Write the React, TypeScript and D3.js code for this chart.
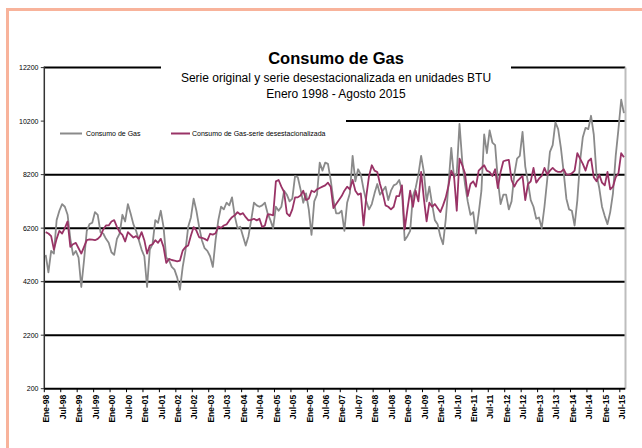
import React from 'react';
import * as d3 from 'd3';

// Consumo de Gas, serie original (BTU), Ene-1998 .. Ago-2015
const consumo = [
  5200, 4550, 5350, 5250, 6500, 6850, 7100, 7000, 6700, 5800, 5200, 5350,
  5100, 4000, 5000, 6100, 6350, 6400, 6800, 6700, 6050, 6000, 5800, 5650,
  5300, 5200, 5800, 6000, 6700, 6450, 7100, 6750, 6350, 6100, 5750, 5400,
  5150, 4000, 5400, 5600, 6500, 6400, 6850, 6250, 5100, 5000, 4750, 4650,
  4350, 3900, 4750, 5350, 6250, 6600, 7300, 6850, 6250, 5750, 5450, 5350,
  5150, 4750, 5750, 6500, 7000, 6900, 7150, 7050, 7350, 6650, 6200, 6250,
  5900, 5550, 5900, 6500, 7150, 7050, 7000, 7050, 7150, 6750, 6500, 6200,
  7000, 6850, 7000, 7600, 7450, 7200, 7300, 8150, 8100, 7650, 7150, 7500,
  6900, 5950, 7200, 7450, 8650, 8350, 8650, 8600, 8000, 7250, 6750, 6750,
  6850, 6100, 7150, 7500, 8900, 7950, 8400, 8200, 7650, 7200, 6900, 7100,
  7500, 7850, 7450, 7600, 7750, 7250, 7600, 7800, 7850, 8000, 7600, 5750,
  5900, 6100, 7400, 7700, 8200, 8900, 8300, 7200, 7750, 7100, 6500, 6350,
  5900, 5600, 6550, 7850, 9200, 8100, 8250, 10100, 8700, 7850, 7200, 6700,
  6800, 6000, 6750, 7600, 9700, 9000, 9850, 9400, 9300, 8000, 7100, 7450,
  7450, 6900, 7200, 8200, 8800, 8900, 9800, 8500, 7900, 7250, 7000, 6550,
  6600, 6200, 7000, 8000, 9050, 9300, 10150, 9900, 9200, 8300, 7300, 6900,
  6850, 6300, 7250, 8700, 9600, 9950, 9900, 10400, 9700, 8200, 7700, 7000,
  6650, 6350, 6800, 7500, 8900, 9900, 11000, 10500,
];

// Consumo de Gas - serie desestacionalizada
const desestacionalizada = [
  6050, 6000, 5900, 5400, 5800, 6100, 6000, 6200, 6450, 5500, 5600, 5650,
  5450, 5250, 5500, 5750, 5780, 5770, 5750, 5800, 5900, 6150, 6300, 6300,
  6450, 6500, 6250, 6050, 5950, 5700, 6050, 5950, 5850, 5900, 5800, 6050,
  5750, 5250, 5550, 5600, 5750, 5650, 5800, 5500, 4900, 5050, 5010, 4990,
  4960, 4990, 5360, 5490, 5550, 5925, 6240, 6110, 5860, 5840, 5800, 5740,
  5990, 5960, 6010, 6260, 6210, 6300, 6340, 6490, 6610, 6680, 6800, 6710,
  6760, 6610, 6490, 6510, 6550, 6490, 6550, 6240, 6300, 6710, 6710, 6680,
  7950, 8000, 7750, 7550, 6750, 6650, 6900, 7350, 7350, 7420, 7600, 7250,
  7300, 7600, 7550, 7650, 7700, 7750, 7800, 7900, 7750, 6950, 7100, 7250,
  7400, 7600, 7750, 7650, 8000, 7600, 7450, 7500, 6300, 7400, 8150, 8550,
  8350, 8300, 7850, 7500, 7050, 7000, 6900, 7000, 7400, 7400, 7800, 6150,
  6900, 7600, 7000, 7600, 7200, 8300, 7300, 6450, 7150, 7000, 7100, 6950,
  6800, 7050, 7350, 7800, 8350, 8150, 6850, 8800, 8550, 8250, 7400, 7850,
  7950, 7750, 8350, 8450, 8550, 8350, 8300, 8150, 8400, 7700, 8300, 8700,
  8730, 8750, 8000, 7750, 7950, 8050, 8150, 7250, 7850, 7950, 8450, 7900,
  8050, 8150, 8450, 8200, 8350, 8450, 8350, 8300, 8300, 8400, 8200, 8200,
  8250, 8350, 9000, 8800, 8600, 8350, 8700, 8800, 8100, 7950, 8200, 7900,
  7800, 8300, 7650, 7750, 8100, 8250, 9000, 8850,
];

const tickLabels = [
  'Ene-98', 'Jul-98', 'Ene-99', 'Jul-99', 'Ene-00', 'Jul-00', 'Ene-01', 'Jul-01',
  'Ene-02', 'Jul-02', 'Ene-03', 'Jul-03', 'Ene-04', 'Jul-04', 'Ene-05', 'Jul-05',
  'Ene-06', 'Jul-06', 'Ene-07', 'Jul-07', 'Ene-08', 'Jul-08', 'Ene-09', 'Jul-09',
  'Ene-10', 'Jul-10', 'Ene-11', 'Jul-11', 'Ene-12', 'Jul-12', 'Ene-13', 'Jul-13',
  'Ene-14', 'Jul-14', 'Ene-15', 'Jul-15',
];

const yTicks = [200, 2200, 4200, 6200, 8200, 10200, 12200];

const FONT = '"Liberation Sans", Arial, sans-serif';
const GREY = '#8a8a8a';
const PLUM = '#993366';

export default function App() {
  const x = d3.scaleLinear().domain([0, consumo.length]).range([44.3, 625.3]);
  const y = d3.scaleLinear().domain([200, 12200]).range([388.7, 67.6]);

  const line = d3.line<number>()
    .x((_, i) => x(i + 0.5))
    .y(d => y(d));

  return (
    <svg width={642} height={448} style={{ position: 'absolute', left: 0, top: 0, background: '#fff' }}
      fontFamily={FONT}>
      {/* outer frame */}
      <rect x={7.5} y={9.5} width={700} height={500} fill="none" stroke="#f8b39b" strokeWidth={3} />

      {/* gridlines */}
      {yTicks.slice(1).map(v => (
        <line key={v} x1={x(0)} x2={x(consumo.length)} y1={y(v)} y2={y(v)} stroke="#000" strokeWidth={2} />
      ))}

      {/* title and legend boxes hide part of the grid */}
      <rect x={161} y={42} width={350} height={62} fill="#fff" />
      <rect x={45} y={112} width={301} height={38} fill="#fff" />

      {/* right border */}
      <line x1={625.5} x2={625.5} y1={y(12200)} y2={y(200)} stroke="#bdbdbd" strokeWidth={2} />

      {/* y axis */}
      <line x1={x(0)} x2={x(0)} y1={y(12200) - 1} y2={y(200)} stroke="#333" strokeWidth={1.5} />
      {yTicks.map(v => (
        <g key={v}>
          <line x1={x(0) - 3.5} x2={x(0)} y1={y(v)} y2={y(v)} stroke="#333" strokeWidth={1} />
          <text x={38.5} y={y(v)} dy="0.35em" textAnchor="end" fontSize={7} fill="#000">{v}</text>
        </g>
      ))}

      {/* x axis */}
      <line x1={x(0)} x2={x(consumo.length)} y1={y(200)} y2={y(200)} stroke="#000" strokeWidth={2} />
      {tickLabels.map((t, k) => {
        const xt = x(k * 6);
        const xc = x(k * 6 + 0.5) + 0.8;
        return (
          <g key={t}>
            <line x1={xt} x2={xt} y1={y(200)} y2={y(200) + 3.5} stroke="#000" strokeWidth={1} />
            <text transform={`translate(${xc},${y(200) + 6}) rotate(-90)`} dy="0.35em" textAnchor="end"
              fontSize={8.5} fontWeight="bold" fill="#000">{t}</text>
          </g>
        );
      })}

      {/* series */}
      <path d={line(consumo) || ''} fill="none" stroke={GREY} strokeWidth={1.8} strokeLinejoin="round" />
      <path d={line(desestacionalizada) || ''} fill="none" stroke={PLUM} strokeWidth={1.8} strokeLinejoin="round" />

      {/* legend */}
      <line x1={60} x2={82} y1={133.5} y2={133.5} stroke={GREY} strokeWidth={2} />
      <text x={86} y={133.5} dy="0.35em" fontSize={7} fill="#000">Consumo de Gas</text>
      <line x1={171} x2={190} y1={133.5} y2={133.5} stroke={PLUM} strokeWidth={2} />
      <text x={192} y={133.5} dy="0.35em" fontSize={7} fill="#000">Consumo de Gas-serie desestacionalizada</text>

      {/* titles */}
      <text x={336} y={64} textAnchor="middle" fontSize={16.5} fontWeight="bold" fill="#000">Consumo de Gas</text>
      <text x={336} y={82} textAnchor="middle" fontSize={12} fill="#000">Serie original y serie desestacionalizada en unidades BTU</text>
      <text x={336} y={98} textAnchor="middle" fontSize={12} fill="#000">Enero 1998 - Agosto 2015</text>
    </svg>
  );
}
